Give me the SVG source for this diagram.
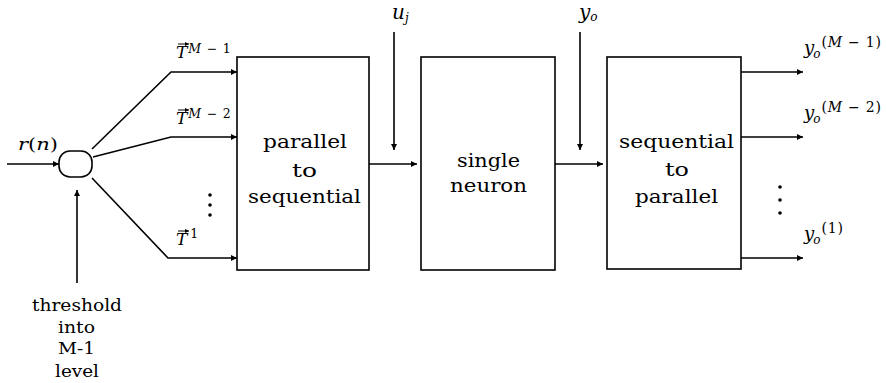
<svg xmlns="http://www.w3.org/2000/svg" width="887" height="383" viewBox="0 0 887 383">
<style>
.box{fill:#fff;stroke:#000;stroke-width:1.6}
.ln{fill:none;stroke:#000;stroke-width:1.6}
.acc{fill:none;stroke:#000;stroke-width:1}
text{font-family:"DejaVu Serif","Liberation Serif","Times New Roman",serif;fill:#000}
.bx{font-size:19px}
.it{font-style:italic}
</style>
<defs>
<marker id="ah" viewBox="0 0 10 10" refX="10" refY="5" markerWidth="9" markerHeight="6" markerUnits="userSpaceOnUse" orient="auto">
<path d="M0,0 L10,5 L0,10 Z" fill="#000"/>
</marker>
<marker id="sa" viewBox="0 0 10 10" refX="10" refY="5" markerWidth="4" markerHeight="4" markerUnits="userSpaceOnUse" orient="auto">
<path d="M0,0 L10,5 L0,10 Z" fill="#000"/>
</marker>
</defs>
<rect width="887" height="383" fill="#fff"/>

<g id="connectors">
<line class="ln" x1="7" y1="164" x2="59" y2="164" marker-end="url(#ah)"/>
<line class="ln" x1="77" y1="283" x2="77" y2="190" marker-end="url(#ah)"/>
<polyline class="ln" points="92,149 171,72 237,72" marker-end="url(#ah)"/>
<polyline class="ln" points="93,157 171,137 237,137" marker-end="url(#ah)"/>
<polyline class="ln" points="92,178 168,258 237,258" marker-end="url(#ah)"/>
<line class="ln" x1="369" y1="164" x2="417" y2="164" marker-end="url(#ah)"/>
<line class="ln" x1="555" y1="164" x2="603" y2="164" marker-end="url(#ah)"/>
<line class="ln" x1="394" y1="32" x2="394" y2="150" marker-end="url(#ah)"/>
<line class="ln" x1="580" y1="32" x2="580" y2="150" marker-end="url(#ah)"/>
<line class="ln" x1="741" y1="72" x2="803" y2="72" marker-end="url(#ah)"/>
<line class="ln" x1="741" y1="137" x2="803" y2="137" marker-end="url(#ah)"/>
<line class="ln" x1="741" y1="258" x2="803" y2="258" marker-end="url(#ah)"/>
</g>

<g id="quantizer">
<rect class="box" x="59" y="151" width="33" height="26" rx="11" ry="11"/>
</g>

<g id="input-label">
<text x="18" y="150" font-size="17" textLength="40" lengthAdjust="spacingAndGlyphs"><tspan class="it">r</tspan>(<tspan class="it">n</tspan>)</text>
</g>

<g id="threshold-label" font-size="16">
<text x="32" y="311" textLength="90" lengthAdjust="spacingAndGlyphs">threshold</text>
<text x="58" y="333" textLength="37" lengthAdjust="spacingAndGlyphs">into</text>
<text x="58" y="354" textLength="37" lengthAdjust="spacingAndGlyphs">M-1</text>
<text x="55" y="377" textLength="44" lengthAdjust="spacingAndGlyphs">level</text>
</g>

<g id="t-labels">
<text x="176" y="58" font-size="17"><tspan class="it">T</tspan><tspan dx="1" dy="-5" font-size="12.5" letter-spacing="0.8"><tspan class="it">M</tspan> − 1</tspan></text>
<line class="acc" x1="178" y1="44" x2="189" y2="44" marker-end="url(#sa)"/>
<text x="176" y="124" font-size="17"><tspan class="it">T</tspan><tspan dx="1" dy="-6" font-size="12.5" letter-spacing="0.8"><tspan class="it">M</tspan> − 2</tspan></text>
<line class="acc" x1="178" y1="110" x2="189" y2="110" marker-end="url(#sa)"/>
<text x="176" y="245" font-size="17"><tspan class="it">T</tspan><tspan dx="3" dy="-7" font-size="12.5">1</tspan></text>
<line class="acc" x1="178" y1="231" x2="189" y2="231" marker-end="url(#sa)"/>
<circle cx="210" cy="195" r="1.8" fill="#000"/>
<circle cx="210" cy="205" r="1.8" fill="#000"/>
<circle cx="210" cy="215" r="1.8" fill="#000"/>
</g>

<g id="parallel-to-sequential">
<rect class="box" x="237" y="57" width="132" height="213"/>
<text class="bx" x="263" y="148" textLength="84" lengthAdjust="spacingAndGlyphs">parallel</text>
<text class="bx" x="292" y="177" textLength="25" lengthAdjust="spacingAndGlyphs">to</text>
<text class="bx" x="248" y="203" textLength="113" lengthAdjust="spacingAndGlyphs">sequential</text>
</g>

<g id="single-neuron">
<rect class="box" x="421" y="57" width="134" height="213"/>
<text class="bx" x="457" y="167" textLength="63" lengthAdjust="spacingAndGlyphs">single</text>
<text class="bx" x="450" y="192" textLength="77" lengthAdjust="spacingAndGlyphs">neuron</text>
</g>

<g id="sequential-to-parallel">
<rect class="box" x="607" y="57" width="134" height="212"/>
<text class="bx" x="619" y="148" textLength="115" lengthAdjust="spacingAndGlyphs">sequential</text>
<text class="bx" x="665" y="176" textLength="24" lengthAdjust="spacingAndGlyphs">to</text>
<text class="bx" x="635" y="203" textLength="83" lengthAdjust="spacingAndGlyphs">parallel</text>
</g>

<g id="uj-label">
<text x="392" y="19" font-size="20"><tspan class="it">u</tspan><tspan class="it" dy="3" font-size="12">j</tspan></text>
</g>

<g id="yo-label">
<text x="579" y="19" font-size="20"><tspan class="it">y</tspan><tspan class="it" dy="2" font-size="12">o</tspan></text>
</g>

<g id="output-labels">
<text x="804" y="54" font-size="18"><tspan class="it">y</tspan><tspan class="it" dx="-1" dy="4" font-size="12">o</tspan><tspan dx="1" dy="-11" font-size="14" letter-spacing="0.8">(<tspan class="it">M</tspan> − 1)</tspan></text>
<text x="804" y="119" font-size="18"><tspan class="it">y</tspan><tspan class="it" dx="-1" dy="4" font-size="12">o</tspan><tspan dx="1" dy="-11" font-size="14" letter-spacing="0.8">(<tspan class="it">M</tspan> − 2)</tspan></text>
<text x="804" y="240" font-size="18"><tspan class="it">y</tspan><tspan class="it" dx="-1" dy="4" font-size="12">o</tspan><tspan dx="1" dy="-11" font-size="14" letter-spacing="0.8">(1)</tspan></text>
<circle cx="780" cy="187" r="1.8" fill="#000"/>
<circle cx="780" cy="200" r="1.8" fill="#000"/>
<circle cx="780" cy="213" r="1.8" fill="#000"/>
</g>
</svg>
